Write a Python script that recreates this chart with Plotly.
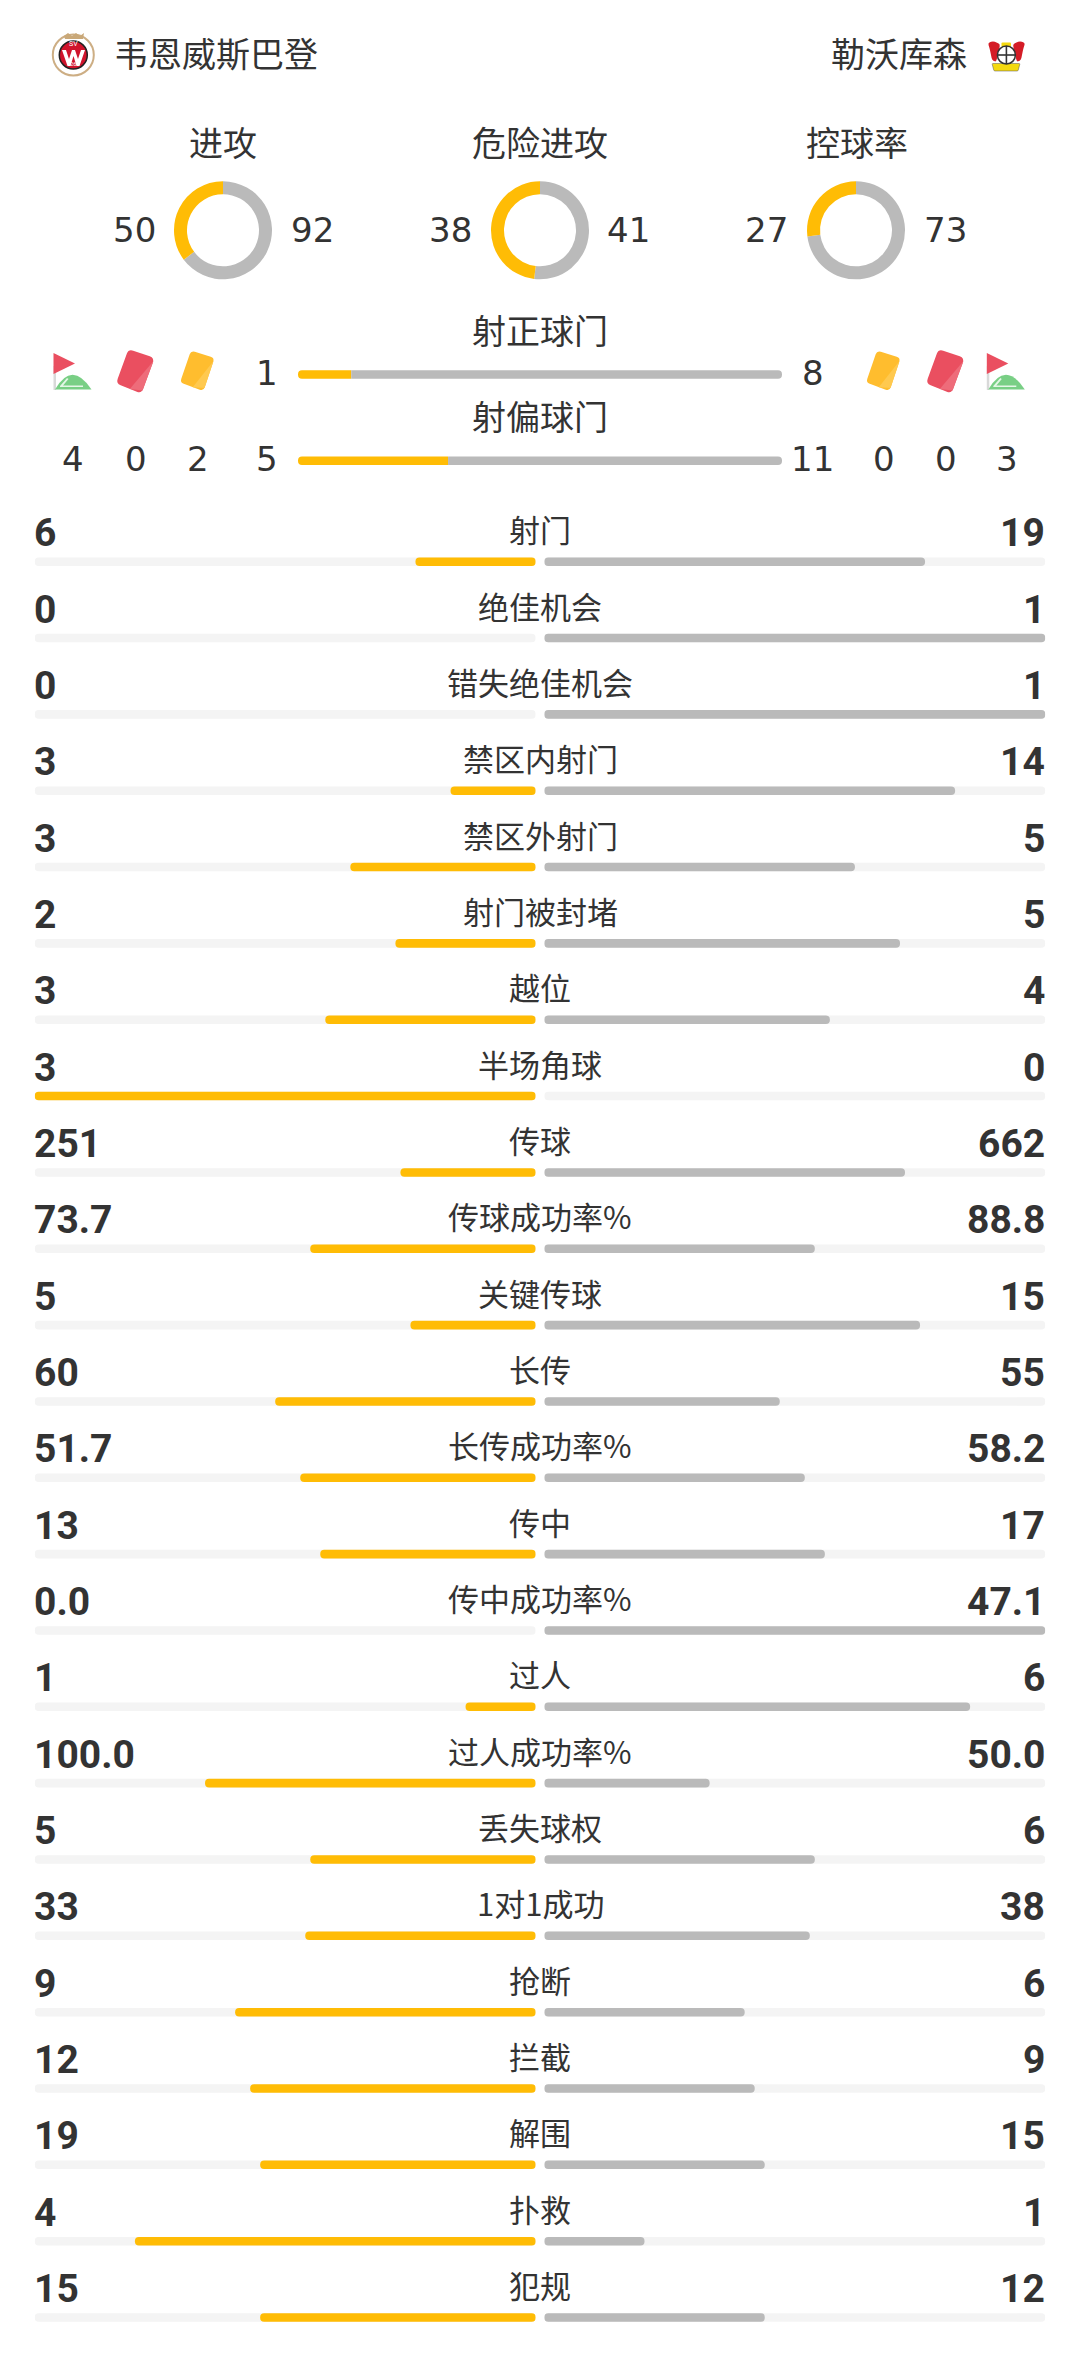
import math
import plotly.graph_objects as go

W = 1080
H = 2379

YELLOW = "#FFBC05"
GREY = "#BABABA"
TRACK = "#F4F4F4"
TEXT = "#333333"
CJK = "Noto Sans CJK SC"
NUM = "DejaVu Sans, Noto Sans CJK SC"
BOLD = "Roboto, Noto Sans CJK SC"

home_team = "韦恩威斯巴登"
away_team = "勒沃库森"

# donuts
donut_names = ["进攻", "危险进攻", "控球率"]
donut_home = [50, 38, 27]
donut_away = [92, 41, 73]

# top two bars
shot_names = ["射正球门", "射偏球门"]
shot_home = [1, 5]
shot_away = [8, 11]

# corners, reds, yellows
home_cards = ["4", "0", "2"]
away_cards = ["0", "0", "3"]

stat_names = ["射门", "绝佳机会", "错失绝佳机会", "禁区内射门", "禁区外射门", "射门被封堵", "越位", "半场角球",
              "传球", "传球成功率%", "关键传球", "长传", "长传成功率%", "传中", "传中成功率%", "过人",
              "过人成功率%", "丢失球权", "1对1成功", "抢断", "拦截", "解围", "扑救", "犯规"]
stat_home = ["6", "0", "0", "3", "3", "2", "3", "3",
             "251", "73.7", "5", "60", "51.7", "13", "0.0", "1",
             "100.0", "5", "33", "9", "12", "19", "4", "15"]
stat_away = ["19", "1", "1", "14", "5", "5", "4", "0",
             "662", "88.8", "15", "55", "58.2", "17", "47.1", "6",
             "50.0", "6", "38", "6", "9", "15", "1", "12"]


def px(x, y):
    return x / W, 1 - y / H


def dom_x(a, b):
    return [a / W, b / W]


def dom_y(top, bottom):
    return [1 - bottom / H, 1 - top / H]


def floor_share(a, b):
    # the bars in the picture sit on whole percents, rounded down
    return math.floor(100 * a / (a + b) + 1e-9) / 100


def label(x, y, text, size, family=CJK, anchor="center", color=TEXT, weight=None):
    fig.add_annotation(x=x / W, y=1 - (y - 2) / H, xref="paper", yref="paper", text=text, showarrow=False,
                       xanchor=anchor, yanchor="middle", borderpad=0,
                       font=dict(size=size, family=family, color=color, weight=weight))


def path_shape(path, fill, line=None, width=0):
    fig.add_shape(type="path", path=path, xref="paper", yref="paper", fillcolor=fill,
                  line=dict(color=line or fill, width=width), layer="above")


def poly(points):
    pts = [px(*p) for p in points]
    return "M" + "L".join(f"{a:.5f},{b:.5f}" for a, b in pts) + "Z"


def round_poly(points, r):
    # polygon with rounded corners, pixel coordinates in
    out = ""
    n = len(points)
    for i in range(n):
        cx, cy = points[i]
        ax, ay = points[i - 1]
        bx, by = points[(i + 1) % n]
        la = ((ax - cx) ** 2 + (ay - cy) ** 2) ** 0.5
        lb = ((bx - cx) ** 2 + (by - cy) ** 2) ** 0.5
        p1 = px(cx + (ax - cx) * r / la, cy + (ay - cy) * r / la)
        p2 = px(cx + (bx - cx) * r / lb, cy + (by - cy) * r / lb)
        c = px(cx, cy)
        out += ("M" if i == 0 else "L") + f"{p1[0]:.5f},{p1[1]:.5f}"
        out += f"Q{c[0]:.5f},{c[1]:.5f} {p2[0]:.5f},{p2[1]:.5f}"
    return out + "Z"


def circle(cx, cy, r, fill, line=None, width=0):
    x0, y0 = px(cx - r, cy - r)
    x1, y1 = px(cx + r, cy + r)
    fig.add_shape(type="circle", xref="paper", yref="paper", x0=x0, y0=y0, x1=x1, y1=y1,
                  fillcolor=fill, line=dict(color=line or fill, width=width), layer="above")


def flag_icon(dx):
    path_shape(poly([(53.5 + dx, 366), (56 + dx, 366), (56 + dx, 390), (53.5 + dx, 390)]), "#D9D9D9")
    path_shape(poly([(53.5 + dx, 353), (75 + dx, 363.5), (53.5 + dx, 374)]), "#EA4F60")
    x0, y0 = px(55 + dx, 389.5)
    x1, y1 = px(91.5 + dx, 389.5)
    cx, cy = px(72 + dx, 360)
    path_shape(f"M{x0:.5f},{y0:.5f}Q{cx:.5f},{cy:.5f} {x1:.5f},{y1:.5f}Z", "#79CF85")
    path_shape(poly([(60 + dx, 386), (67 + dx, 378), (68.5 + dx, 379), (63 + dx, 385.5), (83 + dx, 385.5), (83 + dx, 387), (60 + dx, 387)]), "#E4F6E6")


def card_icon(dx, pts, color, light, r):
    moved = [(a + dx, b) for a, b in pts]
    path_shape(round_poly(moved, r), color)
    # lighter lower right half
    (ax, ay), (bx, by), (cx, cy), (ex, ey) = moved
    path_shape(poly([(bx - 1, by + 3), (cx + 1, cy - 3), ((cx + ex) / 2 + 1, (cy + ey) / 2 + 0.5)]), light)


red_card = [(128.5, 349), (154.5, 358), (141.5, 393.5), (116, 383.5)]
yellow_card = [(191, 350.5), (214.5, 358), (203.5, 391), (180, 382.5)]

fig = go.Figure()

# ----------------
# DONUTS
# ----------------
donut_x = [223, 540, 856]
# away first: clockwise from 12 o'clock leaves the home slice on the left
for cx, h_val, a_val in zip(donut_x, donut_home, donut_away):
    fig.add_trace(go.Pie(values=[a_val, h_val], marker=dict(colors=[GREY, YELLOW], line=dict(width=0)),
                         hole=0.735, sort=False, direction="clockwise", rotation=0,
                         textinfo="none", hoverinfo="skip", showlegend=False,
                         domain=dict(x=dom_x(cx - 49, cx + 49), y=dom_y(181.3, 279.3))))

# ----------------
# TOP BARS
# ----------------
# each row is its own little subplot, zero sits on the split between the teams
layout_axes = {}
row_edges = [331.4, 417.6, 503.8]
for i in range(2):
    share = floor_share(shot_home[i], shot_away[i])
    xname = f"x{i + 3}"
    yname = f"y{i + 2}"
    fig.add_trace(go.Bar(y=[0], x=[share], orientation="h", width=0.1, xaxis=xname, yaxis=yname,
                         marker=dict(color=YELLOW, cornerradius=4, line=dict(width=0)), hoverinfo="skip"))
    fig.add_trace(go.Bar(y=[0], x=[share - 1], orientation="h", width=0.1, xaxis=xname, yaxis=yname,
                         marker=dict(color=GREY, cornerradius=4, line=dict(width=0)), hoverinfo="skip"))
    layout_axes[f"xaxis{i + 3}"] = dict(domain=dom_x(298, 782), range=[share, share - 1], visible=False, anchor=yname)
    layout_axes[f"yaxis{i + 2}"] = dict(domain=dom_y(row_edges[i], row_edges[i + 1]), range=[0.5, -0.5],
                                        visible=False, anchor=xname)

# ----------------
# STAT ROWS
# ----------------
rows = list(range(len(stat_names)))
home_share = []
away_share = []
for h_txt, a_txt in zip(stat_home, stat_away):
    home_share.append(floor_share(float(h_txt), float(a_txt)))
    away_share.append(floor_share(float(a_txt), float(h_txt)))

BAR_W = 0.112
for axis, share, color in (("x", home_share, YELLOW), ("x2", away_share, GREY)):
    fig.add_trace(go.Bar(y=rows, x=[1] * len(rows), base=[0] * len(rows), orientation="h", width=BAR_W,
                         xaxis=axis, yaxis="y", hoverinfo="skip",
                         marker=dict(color=TRACK, cornerradius=4, line=dict(width=0))))
    fig.add_trace(go.Bar(y=rows, x=share, base=[0] * len(rows), orientation="h", width=BAR_W,
                         xaxis=axis, yaxis="y", hoverinfo="skip",
                         marker=dict(color=color, cornerradius=4, line=dict(width=0))))

row_first = 561.7
row_step = 76.34

fig.update_layout(
    width=W, height=H, margin=dict(l=0, r=0, t=0, b=0), autosize=False,
    paper_bgcolor="white", plot_bgcolor="white", showlegend=False, barmode="overlay",
    xaxis=dict(domain=dom_x(34.7, 535.7), range=[1, 0], visible=False, anchor="y"),
    xaxis2=dict(domain=dom_x(544.3, 1045.3), range=[0, 1], visible=False, anchor="y"),
    yaxis=dict(domain=dom_y(row_first - row_step / 2, row_first + (len(rows) - 0.5) * row_step),
               range=[len(rows) - 0.5, -0.5], visible=False),
    **layout_axes,
)

# ----------------
# TEXT
# ----------------
label(113, 54, home_team, 34, anchor="left")
label(968, 54, away_team, 34, anchor="right")

for cx, name, shift in zip(donut_x, donut_names, [0, 0, 1]):
    label(cx + shift, 143, name, 34)
home_num_x = [157, 473, 789]
away_num_x = [290, 606, 923]
for x0, x1, h_val, a_val in zip(home_num_x, away_num_x, donut_home, donut_away):
    label(x0, 232, str(h_val), 34, NUM, "right")
    label(x1, 232, str(a_val), 34, NUM, "left")

label(540, 331, shot_names[0], 34)
label(540, 417, shot_names[1], 34)
label(266.5, 374.5, str(shot_home[0]), 34, NUM)
label(812.5, 374.5, str(shot_away[0]), 34, NUM)
label(266.5, 461.5, str(shot_home[1]), 34, NUM)
label(812.5, 461.5, str(shot_away[1]), 34, NUM)
for x, val in zip([73, 135.7, 197.7], home_cards):
    label(x, 461.5, val, 34, NUM)
for x, val in zip([883.6, 945.6, 1007], away_cards):
    label(x, 461.5, val, 34, NUM)

for i, name in enumerate(stat_names):
    y = row_first + i * row_step
    label(540, y - 31, name, 31)
    label(33, y - 26.5, stat_home[i], 39, BOLD, "left", weight=700)
    label(1046, y - 26.5, stat_away[i], 39, BOLD, "right", weight=700)

# ----------------
# ICONS
# ----------------
for dx_flag, dx_red, dx_yellow in ((0, 0, 0), (933.3, 810, 686)):
    flag_icon(dx_flag)
    card_icon(dx_red, red_card, "#EA4F60", "#EE6C7A", 5)
    card_icon(dx_yellow, yellow_card, "#FFBD2E", "#FFC94F", 4)

# home badge
circle(73.3, 55, 20.5, "white", "#CDAE84", 2)
path_shape(poly([(64, 36), (68, 33), (72, 36), (76, 33), (80, 36), (84, 33), (83, 39), (65, 39)]), "#C9A878")
circle(73.3, 55, 14, "#D0142C", "#222222", 1.5)
path_shape(poly([(62, 50), (66, 50), (69, 59), (72, 50), (75, 50), (78, 59), (81, 50), (85, 50), (79.5, 66),
                 (76.5, 66), (73.5, 56), (70.5, 66), (67.5, 66)]), "white")
label(73.3, 46, "SV", 7, BOLD, color="white")
label(73.3, 66, "26", 6, BOLD, color="white")

# away badge
path_shape(round_poly([(988, 43), (993, 41), (1000, 44), (999, 51), (996, 62), (992, 60), (990, 50)], 2), "#D41C26")
path_shape(round_poly([(1025, 43), (1020, 41), (1013, 44), (1014, 51), (1017, 62), (1021, 60), (1023, 50)], 2), "#D41C26")
path_shape(round_poly([(1001.5, 42.5), (1011, 42.5), (1011, 47), (1001.5, 47)], 1), "#F4D90F")
path_shape(round_poly([(992, 63.5), (1020, 63.5), (1018, 71), (994, 71)], 1), "#F4D90F", "#555555", 0.5)
circle(1006.4, 55, 9, "white", "#333333", 1.5)
path_shape(poly([(1005.6, 46), (1007.2, 46), (1007.2, 64), (1005.6, 64)]), "#333333")
path_shape(poly([(997, 54.2), (1015.5, 54.2), (1015.5, 55.8), (997, 55.8)]), "#333333")

fig.write_html("out.html", config={"displayModeBar": False},
               post_script="document.body.style.margin='0';document.documentElement.style.overflow='hidden';")
